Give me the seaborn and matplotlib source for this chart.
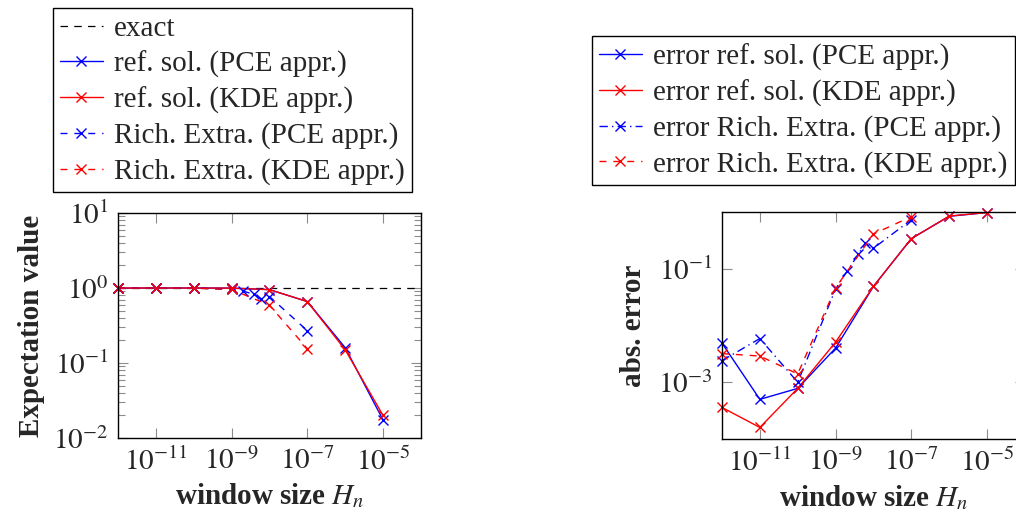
import numpy as np
import pandas as pd
import matplotlib
matplotlib.use("Agg")
import matplotlib.pyplot as plt
import seaborn as sns
from matplotlib.ticker import FixedLocator, NullLocator, LogLocator, NullFormatter

#%% Data

# window sizes
h_ref = [1e-12, 1e-11, 1e-10, 1e-9, 1e-8, 1e-7, 1e-6, 1e-5]
h_rich_pce = [1e-12, 1e-11, 1e-10, 1e-9, 2e-9, 4e-9, 6e-9, 1e-8, 1e-7]
h_rich_kde = [1e-12, 1e-11, 1e-10, 1e-9, 1e-8, 1e-7]

exact = 1.0

# expectation values (left panel)
ev_ref_pce = [0.995, 0.9995, 0.9992, 0.996, 0.951, 0.66, 0.16, 0.0174]
ev_ref_kde = [0.9996, 0.9998, 0.9992, 0.995, 0.951, 0.66, 0.15, 0.020]
ev_rich_pce = [0.9976, 0.994, 0.999, 0.956, 0.91, 0.82, 0.72, 0.77, 0.27]
ev_rich_kde = [0.997, 0.997, 0.9986, 0.955, 0.59, 0.155]

# absolute errors (right panel)
err_ref_pce = [4.9e-3, 5.0e-4, 7.8e-4, 4.0e-3, 0.049, 0.34, 0.84, 0.98]
err_ref_kde = [3.6e-4, 1.6e-4, 7.8e-4, 5.1e-3, 0.049, 0.34, 0.85, 0.98]
err_rich_pce = [2.4e-3, 5.9e-3, 1.0e-3, 0.044, 0.090, 0.18, 0.28, 0.23, 0.73]
err_rich_kde = [3.2e-3, 2.9e-3, 1.4e-3, 0.046, 0.41, 0.83]

xticks = [1e-11, 1e-9, 1e-7, 1e-5]
xtick_labels = [r"$10^{-11}$", r"$10^{-9}$", r"$10^{-7}$", r"$10^{-5}$"]

#%% Style

sns.set_style("ticks")
plt.rcParams["font.family"] = ["Liberation Serif", "DejaVu Serif"]
plt.rcParams["mathtext.fontset"] = "stix"
plt.rcParams["font.size"] = 21

blue = (0, 0, 1)
red = (1, 0, 0)
fs = 21


def draw(ax, x, y, color, ls, label):
    sns.lineplot(x=x, y=y, ax=ax, color=color, linestyle=ls, linewidth=1.0,
                 marker="x", markersize=7, markeredgecolor=color,
                 markeredgewidth=1.0, label=label, clip_on=False)


def style_axes(ax):
    ax.set_xscale("log")
    ax.set_yscale("log")
    ax.set_xlim(1e-12, 1e-4)
    ax.xaxis.set_major_locator(FixedLocator(xticks))
    ax.xaxis.set_minor_locator(NullLocator())
    ax.set_xticklabels(xtick_labels, fontsize=fs)
    ax.tick_params(which="both", direction="in", top=True, right=True,
                   color="0.55", width=0.8)
    ax.tick_params(which="major", length=7, pad=7)
    ax.tick_params(which="minor", length=5)
    for s in ax.spines.values():
        s.set_color("black")
        s.set_linewidth(1.0)
    ax.set_xlabel(r"window size $H_n$", fontsize=fs, fontweight="bold", labelpad=4)


def make_legend(ax, x0, y0):
    leg = ax.legend(loc="upper left", bbox_to_anchor=(x0 / 1016, 1 - y0 / 513),
                    bbox_transform=fig.transFigure, fontsize=fs, frameon=True,
                    fancybox=False, framealpha=1, edgecolor="black",
                    handlelength=1.45, handletextpad=0.4, labelspacing=0.3,
                    borderpad=0.25, borderaxespad=0)
    leg.get_frame().set_linewidth(1.0)
    return leg


fig = plt.figure(figsize=(10.16, 5.13), dpi=100)

#%% Left: expectation value

ax1 = fig.add_axes([0.1161, 0.1462, 0.2982, 0.4386])
ax1.axhline(exact, color="black", linewidth=0.9, linestyle=(0, (6, 5)), label="exact")
draw(ax1, h_ref, ev_ref_pce, blue, "-", "ref. sol. (PCE appr.)")
draw(ax1, h_ref, ev_ref_kde, red, "-", "ref. sol. (KDE appr.)")
draw(ax1, h_rich_pce, ev_rich_pce, blue, (0, (5, 5)), "Rich. Extra. (PCE appr.)")
draw(ax1, h_rich_kde, ev_rich_kde, red, (0, (5, 5)), "Rich. Extra. (KDE appr.)")
style_axes(ax1)
ax1.set_ylim(1e-2, 1e1)
ax1.yaxis.set_major_locator(FixedLocator([1e-2, 1e-1, 1e0, 1e1]))
ax1.yaxis.set_minor_locator(LogLocator(base=10, subs=np.arange(2, 10)))
ax1.yaxis.set_minor_formatter(NullFormatter())
ax1.set_yticklabels([r"$10^{-2}$", r"$10^{-1}$", r"$10^{0}$", r"$10^{1}$"], fontsize=fs)
ax1.set_ylabel("Expectation value", fontsize=fs, fontweight="bold", labelpad=6)
make_legend(ax1, 53, 8)

#%% Right: absolute error

ax2 = fig.add_axes([0.7106, 0.1442, 0.2982, 0.4425])
draw(ax2, h_ref, err_ref_pce, blue, "-", "error ref. sol. (PCE appr.)")
draw(ax2, h_ref, err_ref_kde, red, "-", "error ref. sol. (KDE appr.)")
draw(ax2, h_rich_pce, err_rich_pce, blue, (0, (6, 3, 1, 3)), "error Rich. Extra. (PCE appr.)")
draw(ax2, h_rich_kde, err_rich_kde, red, (0, (5, 5)), "error Rich. Extra. (KDE appr.)")
style_axes(ax2)
ax2.set_ylim(1e-4, 1e0)
ax2.yaxis.set_major_locator(FixedLocator([1e-3, 1e-1]))
ax2.yaxis.set_minor_locator(NullLocator())
ax2.set_yticklabels([r"$10^{-3}$", r"$10^{-1}$"], fontsize=fs)
ax2.set_ylabel("abs. error", fontsize=fs, fontweight="bold", labelpad=8)
make_legend(ax2, 592, 36)

fig.savefig("out.png", dpi=100)
